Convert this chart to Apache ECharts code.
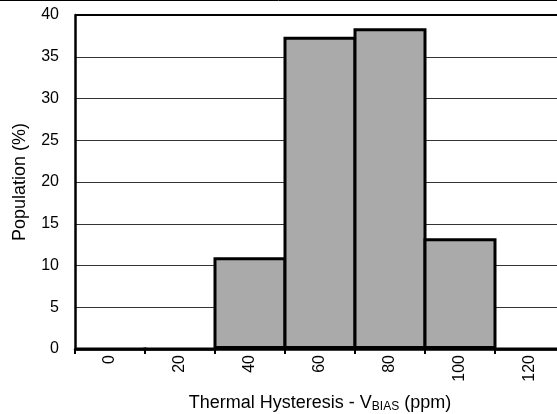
<!DOCTYPE html>
<html>
<head>
<meta charset="utf-8">
<script src="https://cdn.jsdelivr.net/npm/echarts@6/dist/echarts.min.js"></script>
<style>
html,body{margin:0;padding:0;background:#fff;}
#c{width:557px;height:414px;}
</style>
</head>
<body>
<div id="c"></div>
<script>
const categories = ['0', '20', '40', '60', '80', '100', '120'];
const population = [0, 0, 11.0, 37.4, 38.4, 13.25, 0];
const yTicks = { min: 0, max: 40, interval: 5 };

const chart = echarts.init(document.getElementById('c'), null, { renderer: 'canvas' });
const font = '"Liberation Sans", Arial, sans-serif';
chart.setOption({
  animation: false,
  backgroundColor: '#fff',
  grid: { left: 75, top: 15, width: 490, height: 334, show: false, containLabel: false, outerBoundsMode: 'none' },
  xAxis: {
    type: 'category',
    data: categories,
    boundaryGap: true,
    axisLine: { show: true, lineStyle: { color: '#000', width: 2.5 } },
    axisTick: { show: true, alignWithLabel: false, length: 5, lineStyle: { color: '#000', width: 2 } },
    axisLabel: { rotate: 90, color: '#000', fontFamily: font, fontSize: 16, margin: 6 },
    splitLine: { show: false },
    name: '{a|Thermal Hysteresis - V}{s|BIAS}{a| (ppm)}',
    nameLocation: 'middle',
    nameGap: 44,
    nameTextStyle: {
      rich: {
        a: { fontFamily: font, fontSize: 18, color: '#000' },
        s: { fontFamily: font, fontSize: 12, color: '#000', verticalAlign: 'bottom', padding: [8, 0, 0, 0] }
      }
    }
  },
  yAxis: {
    type: 'value',
    min: yTicks.min, max: yTicks.max, interval: yTicks.interval,
    axisLine: { show: true, lineStyle: { color: '#000', width: 2.5 } },
    axisTick: { show: false },
    axisLabel: { color: '#000', fontFamily: font, fontSize: 16, margin: 16 },
    splitLine: { show: true, lineStyle: { color: '#333', width: 1 } },
    name: 'Population (%)',
    nameLocation: 'middle',
    nameGap: 46,
    nameTextStyle: { fontFamily: font, fontSize: 18, color: '#000' }
  },
  series: [{
    type: 'bar',
    data: population,
    barWidth: 73,
    barCategoryGap: '0%',
    itemStyle: { color: '#aaaaaa', borderColor: '#000', borderWidth: 3 }
  }],
  graphic: [
    { type: 'line', shape: { x1: 75, y1: 15, x2: 557, y2: 15 }, style: { stroke: '#000', lineWidth: 2 }, z: 10 },
    { type: 'line', shape: { x1: 0, y1: 0.5, x2: 557, y2: 0.5 }, style: { stroke: '#000', lineWidth: 1 }, z: 10 }
  ]
});
</script>
</body>
</html>
